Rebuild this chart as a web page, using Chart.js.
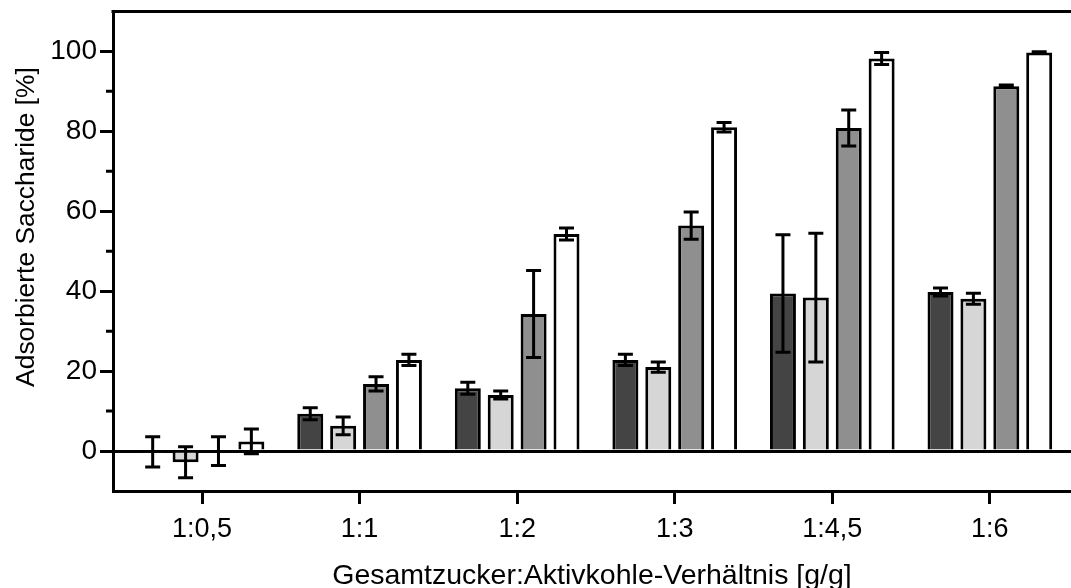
<!DOCTYPE html>
<html>
<head>
<meta charset="utf-8">
<script src="https://cdn.jsdelivr.net/npm/chart.js@4.4.0/dist/chart.umd.min.js"></script>
<style>
    html, body { margin: 0; padding: 0; background: #ffffff; }
    #wrap { width: 1071px; height: 588px; position: relative; }
</style>
</head>
<body>
<div id="wrap"><canvas id="myChart"></canvas></div>
<script>

// ============================================
// DATA
// ============================================

const categories = ['1:0,5', '1:1', '1:2', '1:3', '1:4,5', '1:6'];

const series1 = [-0.2, 9.3, 15.7, 22.8, 39.4, 39.8];
const error1  = [3.8, 1.5, 1.5, 1.4, 14.7, 1.0];

const series2 = [-2.8, 6.3, 14.0, 21.0, 38.4, 38.1];
const error2  = [3.9, 2.2, 1.0, 1.3, 16.1, 1.4];

const series3 = [0, 16.8, 34.3, 56.4, 80.8, 91.3];
const error3  = [3.6, 1.8, 10.9, 3.4, 4.5, 0.3];

const series4 = [2.4, 22.8, 54.3, 81.0, 98.2, 99.7];
const error4  = [3.1, 1.4, 1.5, 1.2, 1.5, 0.2];

const yTicks = [0, 20, 40, 60, 80, 100];
const yMinorTicks = [10, 30, 50, 70, 90];

const fontFamily = '"Liberation Sans", Arial, sans-serif';

// ============================================
// HELPERS
// ============================================

function toPoints(values) {
    return values.map((v, i) => ({ x: i, y: v }));
}

function barSet(label, values, errors, fill) {
    return {
        label: label,
        data: toPoints(values),
        errors: errors,
        backgroundColor: fill,
        borderColor: '#000000',
        borderWidth: 3,
        borderSkipped: 'start',
        barPercentage: 0.79,
        categoryPercentage: 0.835
    };
}

// error bars on top of every bar
const errorBars = {
    id: 'errorBars',
    afterDatasetsDraw(chart) {
        const c = chart.ctx;
        const y = chart.scales.y;
        c.save();
        c.strokeStyle = '#000000';
        c.lineWidth = 3;
        chart.data.datasets.forEach((ds, di) => {
            const meta = chart.getDatasetMeta(di);
            meta.data.forEach((bar, i) => {
                const v = ds.data[i].y;
                const e = ds.errors[i];
                const top = y.getPixelForValue(v + e);
                const bot = y.getPixelForValue(v - e);
                const half = 7.5;
                c.beginPath();
                c.moveTo(bar.x, top);
                c.lineTo(bar.x, bot);
                c.moveTo(bar.x - half, top);
                c.lineTo(bar.x + half, top);
                c.moveTo(bar.x - half, bot);
                c.lineTo(bar.x + half, bot);
                c.stroke();
            });
        });
        c.restore();
    }
};

// frame line on top, short minor ticks and the rotated y title
const frame = {
    id: 'frame',
    afterDraw(chart) {
        const c = chart.ctx;
        const a = chart.chartArea;
        const y = chart.scales.y;
        c.save();
        c.strokeStyle = '#000000';
        c.lineWidth = 3;
        c.beginPath();
        c.moveTo(a.left - 1.5, a.top);
        c.lineTo(a.right, a.top);
        c.stroke();

        c.beginPath();
        yMinorTicks.forEach(v => {
            const p = y.getPixelForValue(v);
            c.moveTo(a.left - 7, p);
            c.lineTo(a.left, p);
        });
        c.stroke();

        c.fillStyle = '#000000';
        c.font = '26.4px ' + fontFamily;
        c.textAlign = 'center';
        c.textBaseline = 'middle';
        c.translate(27, 227);
        c.rotate(-Math.PI / 2);
        c.fillText('Adsorbierte Saccharide [%]', 0, 0);
        c.restore();
    }
};

// ============================================
// CREATE CHART
// ============================================

const ctx = document.getElementById('myChart');

new Chart(ctx, {

    type: 'bar',

    data: {
        datasets: [
            barSet('Serie 1', series1, error1, '#444444'),
            barSet('Serie 2', series2, error2, '#d6d6d6'),
            barSet('Serie 3', series3, error3, '#8f8f8f'),
            barSet('Serie 4', series4, error4, '#ffffff')
        ]
    },

    options: {

        responsive: true,
        maintainAspectRatio: false,
        animation: false,

        layout: {
            padding: { top: 9, right: 0, bottom: 0, left: 0 }
        },

        plugins: {
            legend: { display: false },
            tooltip: { enabled: false }
        },

        scales: {

            x: {
                type: 'linear',
                min: -0.565,
                max: 5.515,
                offset: false,
                afterFit(scale) { scale.height = 97; },
                border: { color: '#000000', width: 3 },
                grid: {
                    offset: false,
                    drawOnChartArea: false,
                    tickLength: 13,
                    tickWidth: 3,
                    tickColor: '#000000'
                },
                ticks: {
                    stepSize: 1,
                    includeBounds: false,
                    autoSkip: false,
                    maxRotation: 0,
                    padding: 9,
                    color: '#000000',
                    font: { family: fontFamily, size: 27 },
                    callback: (v) => categories[v] ?? ''
                },
                title: {
                    display: true,
                    text: 'Gesamtzucker:Aktivkohle-Verhältnis [g/g]',
                    color: '#000000',
                    font: { family: fontFamily, size: 28.5, lineHeight: 1 },
                    padding: { top: 0, bottom: -2 }
                }
            },

            y: {
                min: -10,
                max: 110,
                z: 1,
                afterFit(scale) { scale.width = 113; },
                afterBuildTicks(scale) {
                    scale.ticks = yTicks.map(v => ({ value: v }));
                },
                border: { color: '#000000', width: 3 },
                grid: {
                    color: (c) => c.tick && c.tick.value === 0 ? '#000000' : 'rgba(0,0,0,0)',
                    lineWidth: 3,
                    tickLength: 13,
                    tickWidth: 3,
                    tickColor: '#000000'
                },
                ticks: {
                    padding: 3,
                    color: '#000000',
                    font: { family: fontFamily, size: 28, lineHeight: 0.6 }
                }
            }
        }
    },

    plugins: [errorBars, frame]
});
</script>
</body>
</html>
